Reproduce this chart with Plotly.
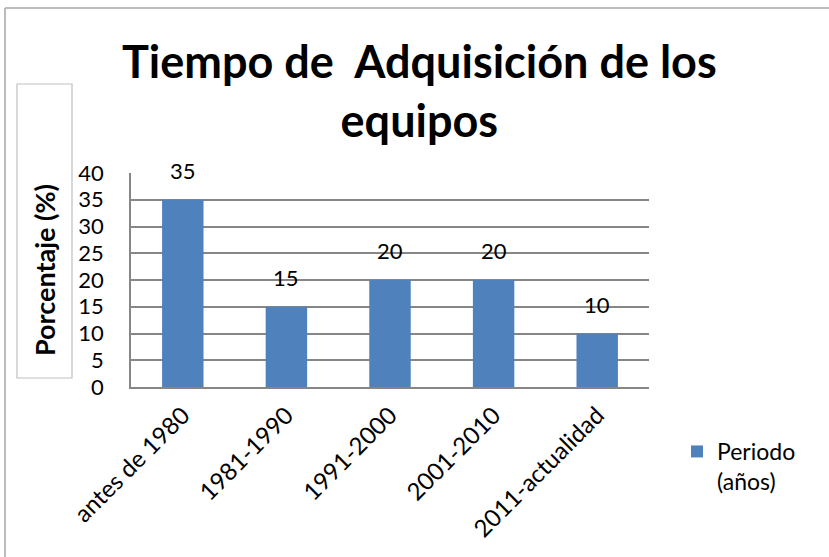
import plotly.graph_objects as go

categories = ["antes de 1980", "1981-1990", "1991-2000", "2001-2010", "2011-actualidad"]
values = [35, 15, 20, 20, 10]
series_name = "Periodo<br>(años)"
y_ticks = [0, 5, 10, 15, 20, 25, 30, 35, 40]

W, H = 829, 557
L, R, T, B = 131, 180, 173, 170
pw, ph = W - L - R, H - T - B

def px_x(p):
    return (p - L) / pw

def px_y(p):
    return (H - B - p) / ph

FONT = "Lato, 'Open Sans', sans-serif"
BLUE = "#4F81BD"

fig = go.Figure()
fig.add_trace(go.Bar(x=categories, y=values, name=series_name, marker_color=BLUE,
                     marker_line_width=0, showlegend=True))

annotations = []
for c, v in zip(categories, values):
    annotations.append(dict(x=c, y=v, xref="x", yref="y", text=str(v), showarrow=False,
                            yanchor="bottom", yshift=14, font=dict(size=22, color="#000", family=FONT)))

annotations.append(dict(x=px_x(44), y=px_y(270), xref="paper", yref="paper",
                        xanchor="center", yanchor="middle",
                        text="<b>Porcentaje (%)</b>", textangle=-90, showarrow=False,
                        font=dict(size=27, color="#000", family=FONT)))

annotations.append(dict(x=px_x(419), y=px_y(90), xref="paper", yref="paper",
                        xanchor="center", yanchor="middle",
                        text="<b>Tiempo de  Adquisición de los<br>equipos</b>", showarrow=False,
                        font=dict(size=45, color="#000", family=FONT)))

shapes = [
    dict(type="line", xref="paper", yref="paper", x0=px_x(5), x1=px_x(840), y0=px_y(8), y1=px_y(8),
         line=dict(color="#A6A6A6", width=1.5)),
    dict(type="line", xref="paper", yref="paper", x0=px_x(5), x1=px_x(5), y0=px_y(8), y1=px_y(570),
         line=dict(color="#A6A6A6", width=1.5)),
    dict(type="rect", xref="paper", yref="paper", x0=px_x(17), x1=px_x(72), y0=px_y(84), y1=px_y(378),
         line=dict(color="#BFBFBF", width=1.2), fillcolor="rgba(0,0,0,0)"),
]

fig.update_layout(
    width=W, height=H,
    margin=dict(l=L, r=R, t=T, b=B, autoexpand=False),
    paper_bgcolor="white", plot_bgcolor="white",
    font=dict(family=FONT, size=22, color="#000"),
    bargap=0.6,
    annotations=annotations,
    shapes=shapes,
    legend=dict(x=px_x(677), y=px_y(430), xanchor="left", yanchor="top", valign="top",
                font=dict(size=23, family=FONT, color="#000"), bgcolor="rgba(0,0,0,0)",
                itemwidth=30),
    xaxis=dict(tickangle=-45, showgrid=False, showline=True, linecolor="#868686", linewidth=1.5,
               ticks="", tickfont=dict(size=24, family=FONT), ticklabelstandoff=3, automargin=False),
    yaxis=dict(range=[0, 40], tickvals=y_ticks, showgrid=True, gridcolor="#868686", gridwidth=1.5,
               showline=True, linecolor="#868686", linewidth=1.5, ticks="", zeroline=False,
               tickfont=dict(size=22, family=FONT), ticklabelstandoff=21, automargin=False),
)

fig.write_html("out.html", config={"displayModeBar": False},
               post_script="document.body.style.margin='0';document.body.style.overflow='hidden';")
